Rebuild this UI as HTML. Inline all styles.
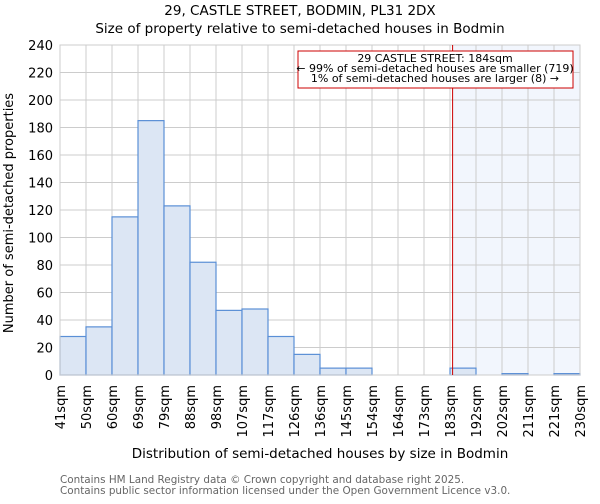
<!DOCTYPE html>
<html><head><meta charset="utf-8"><style>
body{margin:0;background:#fff;font-family:"DejaVu Sans","Liberation Sans",sans-serif;}
svg text{font-family:"DejaVu Sans","Liberation Sans",sans-serif;}
</style></head><body>
<svg id="c" width="600" height="500" xmlns="http://www.w3.org/2000/svg">
<text x="300" y="15" text-anchor="middle" font-size="13.5">29, CASTLE STREET, BODMIN, PL31 2DX</text>
<text x="300" y="33" text-anchor="middle" font-size="13.5">Size of property relative to semi-detached houses in Bodmin</text>
<g id="plot"></g>
<text x="320" y="458" text-anchor="middle" font-size="13.5">Distribution of semi-detached houses by size in Bodmin</text>
<text transform="translate(13,213) rotate(-90)" text-anchor="middle" font-size="13">Number of semi-detached properties</text>
<text x="60" y="483" font-size="10.4" fill="#666">Contains HM Land Registry data © Crown copyright and database right 2025.</text>
<text x="60" y="494" font-size="10.4" fill="#666">Contains public sector information licensed under the Open Government Licence v3.0.</text>
</svg>
<script>
const binLabels=["41sqm","50sqm","60sqm","69sqm","79sqm","88sqm","98sqm","107sqm","117sqm","126sqm","136sqm","145sqm","154sqm","164sqm","173sqm","183sqm","192sqm","202sqm","211sqm","221sqm","230sqm"];
const counts=[28,35,115,185,123,82,47,48,28,15,5,5,0,0,0,5,0,1,0,1];
const yTicks=[0,20,40,60,80,100,120,140,160,180,200,220,240];
const propertyBin=15.1;
const NS="http://www.w3.org/2000/svg";
const g=document.getElementById('plot');
const L=60,R=580,T=45,B=375,yMax=240;
const bw=(R-L)/counts.length;
const X=i=>L+i*bw, Y=v=>B-(v/yMax)*(B-T);
function mk(t,a,p){const e=document.createElementNS(NS,t);for(const k in a)e.setAttribute(k,a[k]);(p||g).appendChild(e);return e;}
let bg=mk('rect',{x:L,y:T,width:R-L,height:B-T,fill:'#fff'});


let sh=mk('rect',{x:X(propertyBin),y:T,width:R-X(propertyBin),height:B-T,fill:'#f2f6fd'});


yTicks.forEach(v=>{
 let l=mk('line',{x1:L,x2:R,y1:Y(v),y2:Y(v),stroke:'#ccc','stroke-width':1});
 
 
 let t=mk('text',{x:L-7,y:Y(v)+5,'text-anchor':'end','font-size':13});
 t.textContent=v;
 
 
});
binLabels.forEach((s,i)=>{
 let l=mk('line',{x1:X(i),x2:X(i),y1:T,y2:B,stroke:'#ccc','stroke-width':1});
 
 
 let t=mk('text',{transform:`translate(${X(i)+5},${B+10}) rotate(-90)`,'text-anchor':'end','font-size':13});
 t.textContent=s;
 
 
});
counts.forEach((v,i)=>{
 let r=mk('rect',{x:X(i),y:Y(v),width:bw,height:B-Y(v),fill:'#dce6f4',stroke:'#5a8fd6','stroke-width':1.2});
 
 
});
let ax=mk('rect',{x:L,y:T,width:R-L,height:B-T,fill:'none',stroke:'#ccc'});


let pl=mk('line',{x1:X(propertyBin),x2:X(propertyBin),y1:T,y2:B,stroke:'#c00','stroke-width':1});


let box=mk('rect',{x:298,y:51,width:275,height:37,fill:'#fff',stroke:'#c00','stroke-width':1});


["29 CASTLE STREET: 184sqm","← 99% of semi-detached houses are smaller (719)","1% of semi-detached houses are larger (8) →"].forEach((s,i)=>{
 let t=mk('text',{x:435,y:62+i*10,'text-anchor':'middle','font-size':11});
 t.textContent=s;
 
 
});
</script>
</body></html>
